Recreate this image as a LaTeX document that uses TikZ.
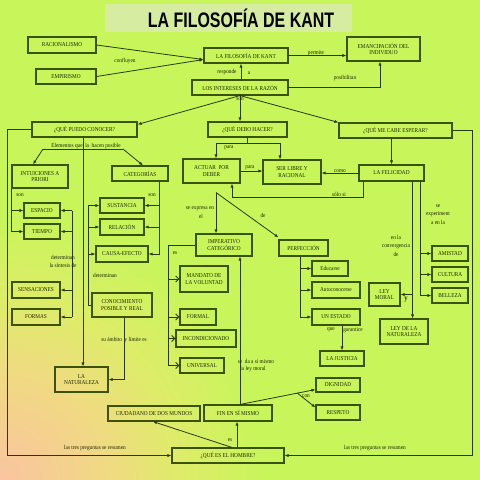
\documentclass[tikz,border=0pt]{standalone}
\usepackage{fontspec}
\setmainfont{Liberation Serif}[FakeStretch=0.88]
\newfontfamily\titlefont{Liberation Sans}[FakeStretch=0.76]
\usetikzlibrary{arrows.meta,calc}
\definecolor{bgc}{RGB}{200,245,90}
\definecolor{peachc}{RGB}{250,196,160}
\definecolor{yelc}{RGB}{240,218,130}
\definecolor{ygc}{RGB}{222,236,105}
\definecolor{titc}{RGB}{214,236,160}
\definecolor{boxc}{RGB}{58,82,10}
\definecolor{linec}{RGB}{40,58,8}
\definecolor{txtc}{RGB}{30,40,5}
\pgfdeclareradialshading{bgrad}{\pgfpoint{0bp}{0bp}}{color(0bp)=(peachc); color(9bp)=(yelc); color(15bp)=(ygc); color(22bp)=(bgc); color(50bp)=(bgc)}
\newcommand\bxfont{\fontsize{6}{6.6}\selectfont}
\newcommand\bx[6]{\node[box,minimum width=#4pt,minimum height=#5pt] (#1) at (#2,#3) {#6};}
\begin{document}
\begin{tikzpicture}[x=1pt,y=-1pt,
  box/.style={draw=boxc, line width=1.1pt, inner sep=1pt, align=center, font=\bxfont, text=txtc},
  lbl/.style={font=\bxfont, inner sep=0pt, text=txtc, align=center},
  ln/.style={draw=linec, line width=0.8pt},
  arr/.style={draw=linec, line width=0.8pt, -{Latex[length=4pt,width=3.2pt]}},
  oarr/.style={draw=linec, line width=0.8pt, -{Straight Barb[length=3pt,width=6pt,line width=1pt]}}]
\useasboundingbox (0,0) rectangle (480,480);
\fill[bgc] (0,0) rectangle (480,480);
\begin{scope}
\clip (0,0) rectangle (480,480);
\shade[shading=bgrad] (0,480) circle (300pt);
\end{scope}
% title
\fill[titc] (105,4) rectangle (352,32);
\node[inner sep=0pt, text=black] (title) at (241,18.5) {\titlefont\bfseries\fontsize{21}{22}\selectfont LA FILOSOFÍA DE KANT};
% boxes
\bx{rac}{62}{45}{68}{16}{RACIONALISMO}
\bx{emp}{66}{76.5}{60}{15}{EMPIRISMO}
\bx{lfk}{246}{55.5}{84}{15}{LA FILOSOFÍA DE KANT}
\bx{eman}{383.5}{49}{73}{24}{EMANCIPACIÓN DEL\\INDIVIDUO}
\bx{lir}{240}{87.5}{96}{15}{LOS INTERESES DE LA RAZÓN}
\bx{qpc}{84.5}{129.5}{105}{15}{¿QUÉ PUEDO CONOCER?}
\bx{qdh}{247.5}{129.5}{79}{15}{¿QUÉ DEBO HACER?}
\bx{qme}{395.5}{130.5}{113}{15}{¿QUÉ ME CABE ESPERAR?}
\bx{int}{40}{176.5}{56}{23}{INTUICIONES A\\PRIORI}
\bx{cat}{140}{173.5}{56}{15}{CATEGORÍAS}
\bx{esp}{42}{210.5}{36}{15}{ESPACIO}
\bx{tie}{42}{231.5}{36}{15}{TIEMPO}
\bx{sen}{36}{290}{48}{16}{SENSACIONES}
\bx{for}{36}{317}{48}{16}{FORMAS}
\bx{sus}{122}{205.5}{44}{15}{SUSTANCIA}
\bx{rel}{122}{227}{44}{16}{RELACIÓN}
\bx{cau}{122}{254}{52}{16}{CAUSA-EFECTO}
\bx{con}{122}{305}{60}{24}{CONOCIMIENTO\\POSIBLE Y REAL}
\bx{nat}{81.5}{379.5}{53}{25}{LA\\NATURALEZA}
\bx{act}{211.5}{171}{57}{24}{ACTUAR\ \ POR\\DEBER}
\bx{ser}{292}{172}{58}{24}{SER LIBRE Y\\RACIONAL}
\bx{fel}{391.5}{173}{65}{16}{LA FELICIDAD}
\bx{imp}{224}{245}{56}{22}{IMPERATIVO\\CATEGÓRICO}
\bx{per}{303.5}{248}{49}{16}{PERFECCIÓN}
\bx{man}{204}{279}{48}{26}{MANDATO DE\\LA VOLUNTAD}
\bx{fml}{198}{317}{36}{16}{FORMAL}
\bx{inc}{206}{338.5}{60}{17}{INCONDICIONADO}
\bx{uni}{202}{365.5}{44}{15}{UNIVERSAL}
\bx{edu}{330}{268.5}{36}{15}{Educarse}
\bx{aut}{336}{290}{48}{16}{Autoconocerse}
\bx{une}{336}{317}{48}{16}{UN ESTADO}
\bx{jus}{342}{358.5}{44}{15}{LA JUSTICIA}
\bx{lmo}{384.5}{294.5}{31}{23}{LEY\\MORAL}
\bx{lna}{404}{331.5}{48}{25}{LEY DE LA\\NATURALEZA}
\bx{ami}{450}{253.5}{36}{15}{AMISTAD}
\bx{cul}{450}{274.5}{36}{15}{CULTURA}
\bx{bel}{450}{295.5}{36}{15}{BELLEZA}
\bx{cdm}{154}{413.5}{92}{15}{CIUDADANO DE DOS MUNDOS}
\bx{fin}{238}{413}{68}{16}{FIN EN SÍ MISMO}
\bx{dig}{338}{385}{44}{14}{DIGNIDAD}
\bx{res}{338}{412.5}{44}{15}{RESPETO}
\bx{qeh}{228}{455.5}{112}{15}{¿QUÉ ES EL HOMBRE?}
% top connectors
\draw[arr] (rac.east) -- ($(lfk.south west)+(0,-4)$);
\draw[arr] (emp.east) -- ($(lfk.south west)+(0,-4)$);
\node[lbl] at (125,61) {confluyen};
\draw[arr] (lfk.east) -- (lfk.east -| eman.west);
\node[lbl,anchor=base] at (316,54) {permite};
\coordinate (ra) at ($(lir.north)+(1,0)$);
\draw[arr] (ra) -- (ra |- lfk.south);
\node[lbl] at (227,72) {responde};
\node[lbl] at (249,73) {a};
\coordinate (pb) at ($(eman.south)+(-3.5,0)$);
\draw[arr] (lir.east) -| (pb);
\node[lbl] at (345,78) {posibilitan};
\draw[arr] (lir.south) -- ($(qpc.north east)+(0,3)$);
\draw[arr] (lir.south) -- (lir.south |- qdh.north);
\draw[arr] (lir.south) -- (qme.north west);
\node[lbl] at (240,99) {son};
% outer loops
\draw[arr] (qpc.west) -- ++(-24,0) |- (qeh.west);
\draw[arr] (qme.east) -- ++(20,0) |- (qeh.east);
\node[lbl] at (95,448) {las tres preguntas se resumen};
\node[lbl] at (375,448) {las tres preguntas se resumen};
% que puedo conocer
\coordinate (qb) at ($(qpc.south)+(-1.5,0)$);
\draw[arr] (qb) -- (qb |- nat.north);
\coordinate (e1) at (43,149);
\coordinate (e2) at (123,149);
\draw[ln] (e1) -- (e2);
\draw[arr] (e1) -- ($(int.north)+(-7,0)$);
\draw[arr] (e2) -- ($(cat.north)+(3,0)$);
\node[lbl,anchor=base] at (86,147.5) {Elementos que\ \ la\ \ hacen posible};
\draw[arr] (int.south west) |- (tie.west);
\draw[arr] (int.south west |- esp.west) -- (esp.west);
\node[lbl] at (20,195) {son};
\coordinate (dl) at (72,0);
\draw[ln] (esp.east -| dl) -- (for.east -| dl);
\foreach \n in {esp,tie,sen,for} \draw[arr] (\n.east -| dl) -- (\n.east);
\node[lbl] at (63,257) {determinan};
\node[lbl] at (63,265) {la síntesis de};
\coordinate (cr) at (159,0);
\draw[arr] (cat.south -| cr) |- (cau.east);
\foreach \n in {sus,rel} \draw[arr] (\n.east -| cr) -- (\n.east);
\node[lbl] at (152,195) {son};
\coordinate (cl) at (88,0);
\draw[ln] (sus.west -| cl) |- (con.west);
\foreach \n in {sus,rel,cau} \draw[arr] (\n.west -| cl) -- (\n.west);
\node[lbl] at (105,275) {determinan};
\coordinate (cb) at ($(con.south)+(2,0)$);
\draw[arr] (cb) |- (nat.east);
\node[lbl] at (124,340) {su ámbito\ \ y límite es};
% que debo hacer
\coordinate (pp) at ($(qdh.south)+(0,6)$);
\draw[ln] (qdh.south) -- (pp);
\coordinate (pa) at ($(act.north)+(4.5,0)$);
\coordinate (pc) at ($(ser.north)+(-12,0)$);
\draw[arr] (pp) -| (pa);
\draw[arr] (pp) -| (pc);
\node[lbl] at (229,148) {para};
\draw[arr] (act.east) -- (act.east -| ser.west);
\node[lbl] at (250,168) {para};
\draw[arr] (fel.west) -- (fel.west -| ser.east);
\node[lbl] at (340,171) {como};
\draw[arr] (fel.north |- qme.south) -- (fel.north);
\coordinate (fs1) at ($(fel.south west)+(5,0)$);
\coordinate (as) at ($(act.south)+(20.5,0)$);
\draw[arr] (fs1) -- ++(0,16) -| (as);
\node[lbl] at (339,194.5) {sólo si};
\coordinate (ap) at ($(act.south)+(4.5,9)$);
\draw[arr] (ap) -- (ap |- imp.north);
\draw[arr] (ap) -- ($(per.north west)+(0,-2)$);
\node[lbl] at (200,209) {se expresa en};
\node[lbl] at (201,216) {el};
\node[lbl] at (263,215) {de};
\coordinate (il) at (168,0);
\draw[ln] (imp.west) -| (uni.west -| il);
\foreach \n in {man,fml,inc,uni} \draw[oarr] (\n.west -| il) -- (\n.west);
\node[lbl] at (175,253) {es};
\coordinate (fs) at ($(fin.north)+(2,0)$);
\draw[arr] (fs) -- (fs |- imp.south);
\node[lbl] at (256,361) {se\ \ da a sí mismo};
\node[lbl] at (253,369) {la ley moral};
\coordinate (dg) at ($(dig.south west)+(0,-3)$);
\draw[arr] (fs) -- (dg);
\coordinate (br) at ($(fs)!0.76!(dg)$);
\draw[arr] (br) -- ($(res.north west)+(0,3)$);
\node[lbl] at (306,396) {con};
\coordinate (q1) at ($(qeh.north)+(4,0)$);
\draw[arr] (q1) -- ($(cdm.south)+(-1,0)$);
\coordinate (q2) at ($(qeh.north)+(9,0)$);
\draw[arr] (q2) -- (q2 |- fin.south);
\node[lbl] at (230,440) {es};
% perfeccion
\coordinate (pl) at ($(per.south)+(-3.5,0)$);
\draw[arr] (pl) |- (une.west);
\foreach \n in {edu,aut} \draw[arr] (\n.west -| pl) -- (\n.west);
\draw[arr] (jus.north |- une.south) -- (jus.north);
\node[lbl] at (331,330) {que};
\node[lbl] at (353,330) {garantice};
% felicidad
\coordinate (f1) at ($(fel.south east)+(-12,0)$);
\coordinate (f2) at ($(fel.south east)+(-4,0)$);
\draw[arr] (f1) -- (f1 |- lna.north);
\draw[arr] (lmo.east -| f1) -- (lmo.east);
\draw[arr] (f2) |- (bel.west);
\foreach \n in {ami,cul} \draw[arr] (\n.west -| f2) -- (\n.west);
\node[lbl] at (396,237) {en la};
\node[lbl] at (396,246) {convergencia};
\node[lbl] at (396,254) {de};
\node[lbl] at (438,206) {se};
\node[lbl] at (438,214) {experiment};
\node[lbl] at (438,222) {a en la};
\node[lbl,font=\fontsize{7.5}{8}\selectfont\bfseries] at (406,300) {y};
\end{tikzpicture}
\end{document}
